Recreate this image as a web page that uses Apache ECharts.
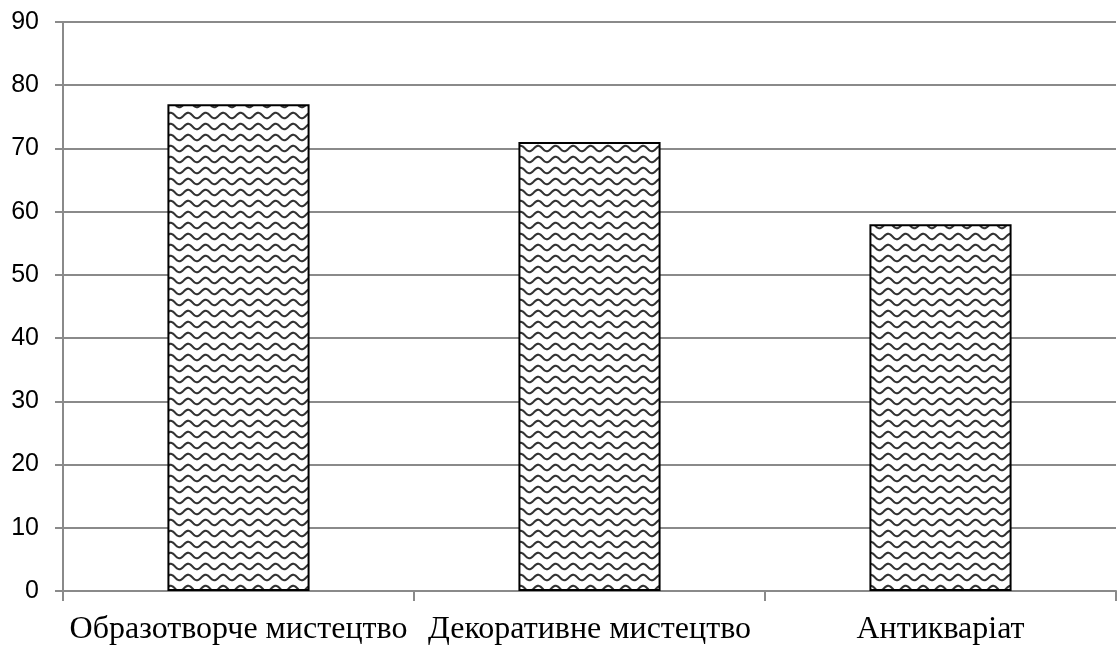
<!DOCTYPE html>
<html>
<head>
<meta charset="utf-8">
<script src="https://cdn.jsdelivr.net/npm/echarts@6/dist/echarts.min.js"></script>
<style>
  html, body { margin: 0; padding: 0; background: #fff; }
  #chart { width: 1119px; height: 646px; }
</style>
</head>
<body>
<div id="chart"></div>
<script>
// Categories and values
const categories = ['Образотворче мистецтво', 'Декоративне мистецтво', 'Антикваріат'];
const values = [77, 71, 58];
const yTicks = { min: 0, max: 90, interval: 10 };

// Wavy hatch fill tile: two wave periods wide, one row tall
function waveTile() {
  const w = 35, h = 11, period = w / 2;
  const c = document.createElement('canvas');
  c.width = w; c.height = h;
  const ctx = c.getContext('2d');
  ctx.fillStyle = '#fff';
  ctx.fillRect(0, 0, w, h);
  ctx.strokeStyle = '#333';
  ctx.lineWidth = 2.1;
  ctx.beginPath();
  for (let x = -2; x <= w + 2; x += 0.5) {
    const y = 5.5 + 2.7 * Math.sin((x / period) * Math.PI * 2);
    if (x === -2) ctx.moveTo(x, y); else ctx.lineTo(x, y);
  }
  ctx.stroke();
  return c;
}

const chart = echarts.init(document.getElementById('chart'), null, { renderer: 'canvas' });
chart.setOption({
  animation: false,
  backgroundColor: '#fff',
  grid: { left: 63, right: 3, top: 22, bottom: 55, containLabel: false },
  xAxis: {
    type: 'category',
    data: categories,
    boundaryGap: true,
    axisLine: { show: true, lineStyle: { color: '#8a8a8a', width: 2 } },
    axisTick: { show: true, length: 10, lineStyle: { color: '#8a8a8a', width: 2 } },
    axisLabel: {
      margin: 23,
      interval: 0,
      color: '#000',
      fontFamily: 'Liberation Serif, Times New Roman, serif',
      fontSize: 32
    },
    splitLine: { show: false }
  },
  yAxis: {
    type: 'value',
    min: yTicks.min,
    max: yTicks.max,
    interval: yTicks.interval,
    axisLine: { show: true, lineStyle: { color: '#8a8a8a', width: 2 } },
    axisTick: { show: true, length: 8, lineStyle: { color: '#8a8a8a', width: 2 } },
    axisLabel: {
      margin: 24,
      color: '#000',
      fontFamily: 'Liberation Sans, Arial, sans-serif',
      fontSize: 25
    },
    splitLine: { show: true, lineStyle: { color: '#8a8a8a', width: 2 } }
  },
  series: [{
    type: 'bar',
    data: values,
    barWidth: '40.5%',
    itemStyle: {
      color: { image: waveTile(), repeat: 'repeat' },
      borderColor: '#000',
      borderWidth: 2
    }
  }]
});
</script>
</body>
</html>
